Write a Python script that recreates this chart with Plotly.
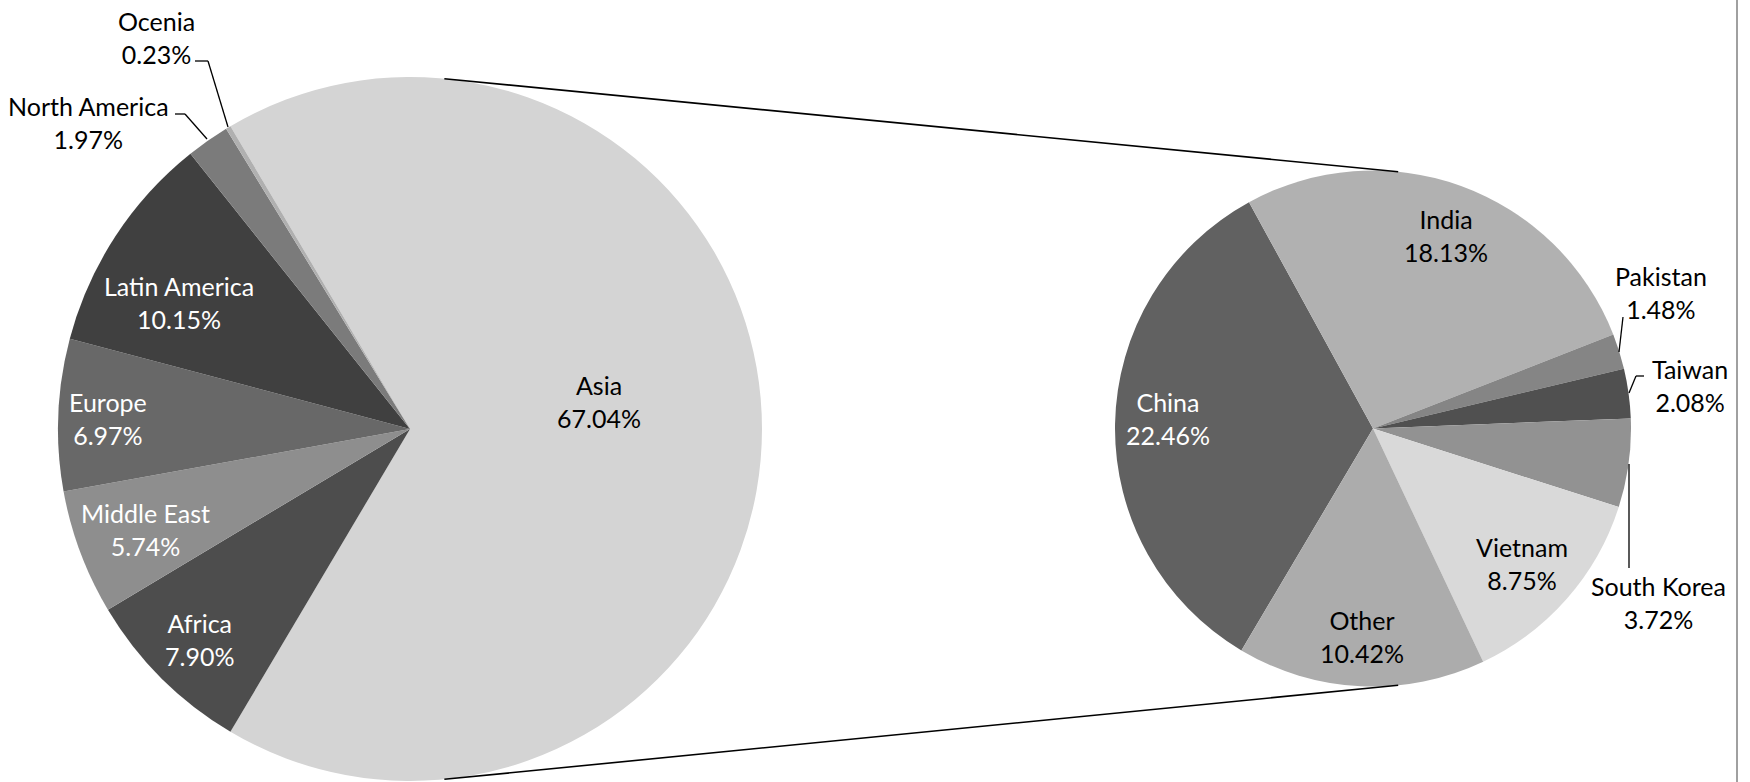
import math
import plotly.graph_objects as go

# ---------------- data ----------------
regions = ["Asia", "Africa", "Middle East", "Europe", "Latin America", "North America", "Ocenia"]
region_share = [67.04, 7.90, 5.74, 6.97, 10.15, 1.97, 0.23]

asia_countries = ["China", "India", "Pakistan", "Taiwan", "South Korea", "Vietnam", "Other"]
asia_share = [22.46, 18.13, 1.48, 2.08, 3.72, 8.75, 10.42]

# ---------------- styles / layout ----------------
W, H = 1750, 782
region_colors = ["#d4d4d4", "#4d4d4d", "#8e8e8e", "#686868", "#404040", "#7b7b7b", "#b0b0b0"]
asia_colors = ["#616161", "#b1b1b1", "#858585", "#505050", "#929292", "#d9d9d9", "#acacac"]
region_text_colors = ["black", "white", "white", "white", "white", "black", "black"]
asia_text_colors = ["white", "black", "black", "black", "black", "black", "black"]

# label centres (pixels from top-left)
region_label_pos = [(599, 401), (199, 639), (145, 529), (108, 419), (179, 302), (88, 123), (156, 38)]
asia_label_pos = [(1168, 419), (1446, 236), (1661, 292), (1690, 386), (1658, 602), (1522, 563), (1362, 636)]

# leader lines (pixels)
leaders = [
    [(195, 61), (208, 61), (228, 127)],
    [(175, 114), (185, 114), (207, 139)],
    [(1623, 317), (1619, 352)],
    [(1644, 376), (1636, 376), (1629, 393)],
    [(1629, 568), (1629, 464)],
]

# pie geometry (pixels)
L_CX, L_CY, L_R = 410, 429, 352
R_CX, R_CY, R_R = 1373, 428.5, 258

FONT = "Lato"
FS = 25


def px(x):
    return x / W


def py(y):
    return 1 - y / H


fig = go.Figure()

fig.add_trace(go.Pie(
    labels=regions, values=region_share, sort=False, direction="clockwise",
    rotation=90 - 360 * region_share[0] / sum(region_share) / 2,
    marker=dict(colors=region_colors, line=dict(width=0)),
    textinfo="none", hoverinfo="label+value", showlegend=False,
    domain=dict(x=[px(L_CX - 400), px(L_CX + 400)],
                y=[(H - L_CY - L_R) / H, (H - L_CY + L_R) / H]),
))

fig.add_trace(go.Pie(
    labels=asia_countries, values=asia_share, sort=False, direction="clockwise",
    rotation=90 + 360 * region_share[0] / sum(region_share) / 2,
    marker=dict(colors=asia_colors, line=dict(width=0)),
    textinfo="none", hoverinfo="label+value", showlegend=False,
    domain=dict(x=[px(R_CX - 300), px(R_CX + 300)],
                y=[(H - R_CY - R_R) / H, (H - R_CY + R_R) / H]),
))

annotations = []
for name, v, (x, y), c in zip(regions, region_share, region_label_pos, region_text_colors):
    annotations.append(dict(x=px(x), y=py(y), xref="paper", yref="paper",
                            text=f"{name}<br>{v:.2f}%", showarrow=False,
                            xanchor="center", yanchor="middle",
                            font=dict(family=FONT, size=FS, color=c)))
for name, v, (x, y), c in zip(asia_countries, asia_share, asia_label_pos, asia_text_colors):
    annotations.append(dict(x=px(x), y=py(y), xref="paper", yref="paper",
                            text=f"{name}<br>{v:.2f}%", showarrow=False,
                            xanchor="center", yanchor="middle",
                            font=dict(family=FONT, size=FS, color=c)))

shapes = []
for pts in leaders:
    for (x0, y0), (x1, y1) in zip(pts[:-1], pts[1:]):
        shapes.append(dict(type="line", xref="paper", yref="paper",
                           x0=px(x0), y0=py(y0), x1=px(x1), y1=py(y1),
                           line=dict(color="black", width=1.3)))

# connector lines: external tangents between the two circles
s = (L_R - R_R) / (R_CX - L_CX)
c = math.sqrt(1 - s * s)
for sign in (-1, 1):
    x0, y0 = L_CX + L_R * s, L_CY + sign * L_R * c
    x1, y1 = R_CX + R_R * s, R_CY + sign * R_R * c
    shapes.append(dict(type="line", xref="paper", yref="paper",
                       x0=px(x0), y0=py(y0), x1=px(x1), y1=py(y1),
                       line=dict(color="black", width=1.6)))

# right border
shapes.append(dict(type="line", xref="paper", yref="paper",
                   x0=px(1737), y0=0, x1=px(1737), y1=1,
                   line=dict(color="#a0a0a0", width=2)))

fig.update_layout(
    width=W, height=H,
    margin=dict(l=0, r=0, t=0, b=0),
    paper_bgcolor="white", plot_bgcolor="white",
    annotations=annotations, shapes=shapes,
    font=dict(family=FONT, size=FS),
)

fig.write_html(
    "out.html",
    config={"displayModeBar": False},
    post_script="document.body.style.margin='0';document.body.style.overflow='hidden';",
)
